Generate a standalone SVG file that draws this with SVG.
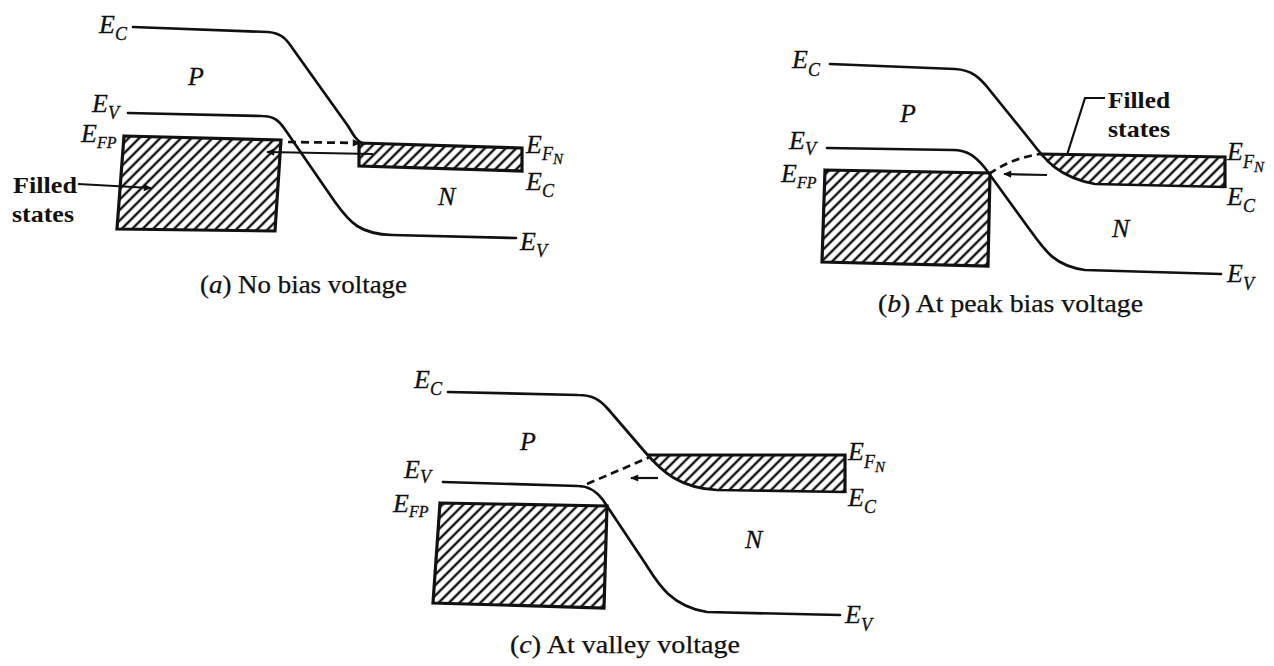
<svg xmlns="http://www.w3.org/2000/svg" width="1274" height="666" viewBox="0 0 1274 666">
<style>
.band{fill:none;stroke:#111;stroke-width:2.7;stroke-linecap:round;stroke-linejoin:round}
.box{fill:url(#hatch);stroke:#111;stroke-width:3.2;stroke-linejoin:miter}
.hfill{fill:url(#hatch);stroke:none}
.edge{fill:none;stroke:#111;stroke-width:3.2}
.arr{fill:none;stroke:#111;stroke-width:2.2}
.dash{fill:none;stroke:#111;stroke-width:2.7;stroke-dasharray:8 5}
.lab{font-family:"Liberation Serif",serif;font-style:italic;font-size:26px;fill:#111;stroke:#111;stroke-width:0.3}
.sub{font-size:18px}
.sub2{font-size:15px}
.fp{font-size:16px}
.note{font-family:"Liberation Serif",serif;font-weight:bold;font-size:23px;fill:#111}
.cap{font-family:"Liberation Serif",serif;font-size:25px;fill:#111;stroke:#111;stroke-width:0.25}
</style>
<defs>
<pattern id="hatch" patternUnits="userSpaceOnUse" width="7.4" height="7.4" patternTransform="rotate(45)">
<rect width="7.4" height="7.4" fill="#fff"/>
<line x1="3.7" y1="0" x2="3.7" y2="7.4" stroke="#111" stroke-width="2.4"/>
</pattern>
<marker id="ah" viewBox="0 0 10 10" refX="9" refY="5" markerWidth="9" markerHeight="8" markerUnits="userSpaceOnUse" orient="auto">
<path d="M0,0.5 L10,5 L0,9.5 z" fill="#111"/>
</marker>
</defs>
<rect width="1274" height="666" fill="#fff"/>

<g id="panel-a">
<polygon class="box" points="124,136 281,140 275,231 117,229"/>
<polygon class="box" points="359,143 522,148 522,171 359,166"/>
<path class="band" d="M133,27 L268,32 C282,33 287,40 293,49 L348,126 C354,136 357,141 362,143"/>
<path class="band" d="M128,113 L262,116 C274,116 279,121 284,128 L335,202 C350,223 360,234 392,235 L516,238"/>
<text class="lab" x="99" y="33">E<tspan class="sub" dy="7">C</tspan></text>
<text class="lab" x="188" y="85">P</text>
<text class="lab" x="92" y="112">E<tspan class="sub" dy="7">V</tspan></text>
<text class="lab" x="81" y="142">E<tspan class="fp" dy="6">FP</tspan></text>
<text class="lab" x="526" y="153">E<tspan class="sub" dy="7">F</tspan><tspan class="sub2" dy="4">N</tspan></text>
<text class="lab" x="526" y="190">E<tspan class="sub" dy="7">C</tspan></text>
<text class="lab" x="438" y="205">N</text>
<text class="lab" x="520" y="250">E<tspan class="sub" dy="7">V</tspan></text>
<text class="note" x="13" y="193" textLength="64" lengthAdjust="spacingAndGlyphs">Filled</text>
<text class="note" x="12" y="222" textLength="62" lengthAdjust="spacingAndGlyphs">states</text>
<text class="cap" x="200" y="293" textLength="207" lengthAdjust="spacingAndGlyphs">(<tspan font-style="italic">a</tspan>) No bias voltage</text>
</g>

<g id="panel-b">
<polygon class="box" points="825,170 990,173 988,266 822,262"/>
<path class="hfill" d="M1040,154 L1225,157 L1225,187 L1095,184 C1065,179 1050,167 1040,154 Z"/>
<path class="edge" d="M1040,154 L1225,157 L1225,188"/>
<path class="band" d="M830,64 L955,69 C972,70 980,78 988,88 L1030,140 C1045,160 1058,177 1095,184 L1225,187"/>
<path class="band" d="M827,148 L953,150 C968,150 976,157 985,168 L1030,230 C1045,251 1055,266 1085,270 L1221,274"/>
<text class="lab" x="792" y="68">E<tspan class="sub" dy="8">C</tspan></text>
<text class="lab" x="900" y="122">P</text>
<text class="lab" x="789" y="149">E<tspan class="sub" dy="6">V</tspan></text>
<text class="lab" x="781" y="182">E<tspan class="fp" dy="6">FP</tspan></text>
<text class="lab" x="1227" y="160">E<tspan class="sub" dy="8">F</tspan><tspan class="sub2" dy="4">N</tspan></text>
<text class="lab" x="1227" y="205">E<tspan class="sub" dy="7">C</tspan></text>
<text class="lab" x="1112" y="237">N</text>
<text class="lab" x="1227" y="282">E<tspan class="sub" dy="8">V</tspan></text>
<text class="note" x="1108" y="108" textLength="62" lengthAdjust="spacingAndGlyphs">Filled</text>
<text class="note" x="1108" y="137" textLength="62" lengthAdjust="spacingAndGlyphs">states</text>
<text class="cap" x="878" y="312" textLength="265" lengthAdjust="spacingAndGlyphs">(<tspan font-style="italic">b</tspan>) At peak bias voltage</text>
</g>

<g id="panel-c">
<polygon class="box" points="440,503 607,506 604,608 433,603"/>
<path class="hfill" d="M650,455 L845,455 L845,492 L717,490 C680,488 662,472 650,458 Z"/>
<path class="edge" d="M648,455 L845,455 L845,493"/>
<path class="band" d="M448,392 L578,395 C593,395 600,400 608,409 L645,452 C662,472 680,488 717,490 L845,492"/>
<path class="band" d="M443,482 L578,486 C590,486 597,492 603,500 L645,563 C657,582 670,606 707,612 L840,615"/>
<text class="lab" x="414" y="388">E<tspan class="sub" dy="7">C</tspan></text>
<text class="lab" x="520" y="450">P</text>
<text class="lab" x="404" y="478">E<tspan class="sub" dy="5">V</tspan></text>
<text class="lab" x="393" y="512">E<tspan class="fp" dy="5">FP</tspan></text>
<text class="lab" x="848" y="460">E<tspan class="sub" dy="8">F</tspan><tspan class="sub2" dy="4">N</tspan></text>
<text class="lab" x="848" y="506">E<tspan class="sub" dy="7">C</tspan></text>
<text class="lab" x="745" y="548">N</text>
<text class="lab" x="845" y="623">E<tspan class="sub" dy="8">V</tspan></text>
<text class="cap" x="510" y="653" textLength="230" lengthAdjust="spacingAndGlyphs">(<tspan font-style="italic">c</tspan>) At valley voltage</text>
</g>

<g id="connectors">
<path class="dash" d="M288,142 L360,143" marker-end="url(#ah)"/>
<path class="arr" d="M373,154 L267,152" marker-end="url(#ah)"/>
<path class="arr" d="M78,184 L151,188" marker-end="url(#ah)"/>
<path class="dash" d="M989,174 Q1012,158 1040,154"/>
<path class="arr" d="M1047,175 L1004,174" marker-end="url(#ah)"/>
<path class="arr" d="M1067,155 L1085,98 L1105,98"/>
<path class="dash" d="M587,484 L650,457"/>
<path class="arr" d="M658,478 L631,478" marker-end="url(#ah)"/>
</g>
</svg>
